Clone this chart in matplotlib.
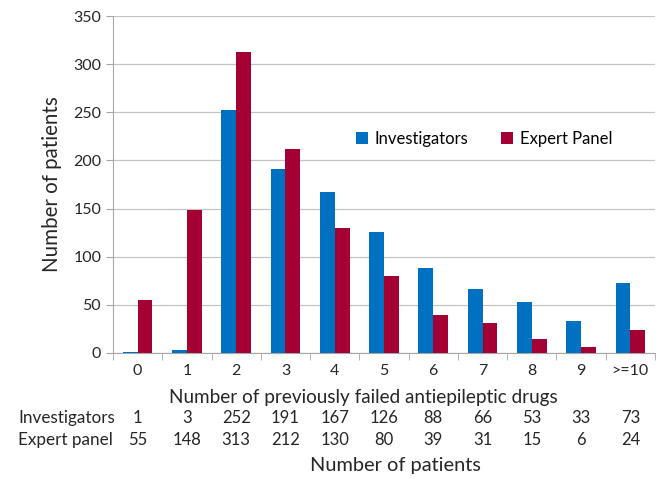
import matplotlib
matplotlib.use("Agg")
import matplotlib.pyplot as plt
import matplotlib.transforms as mtransforms
import numpy as np

categories = ["0", "1", "2", "3", "4", "5", "6", "7", "8", "9", ">=10"]
investigators = [1, 3, 252, 191, 167, 126, 88, 66, 53, 33, 73]
expert_panel = [55, 148, 313, 212, 130, 80, 39, 31, 15, 6, 24]
yticks = [0, 50, 100, 150, 200, 250, 300, 350]

plt.rcParams['font.family'] = ['Lato', 'DejaVu Sans']

W, H = 662, 479
fig = plt.figure(figsize=(W / 100, H / 100), dpi=100)
ax = fig.add_axes([113 / W, 1 - 353 / H, (655 - 113) / W, (353 - 16) / H])

blue = "#0070C0"
red = "#A50034"
x = np.arange(len(categories))
bw = 0.3
ax.bar(x - bw / 2, investigators, bw, color=blue, label="Investigators", zorder=3)
ax.bar(x + bw / 2, expert_panel, bw, color=red, label="Expert Panel", zorder=3)

ax.set_xlim(-0.5, len(categories) - 0.5)
ax.set_ylim(0, 350)
ax.set_yticks(yticks)
ax.tick_params(axis='y', labelsize=11.5, length=5, color="#a6a6a6", colors="#262626")
for lbl in ax.get_yticklabels():
    lbl.set_color("#262626")
ax.yaxis.grid(True, color="#c4c4c4", linewidth=0.9, zorder=0)
ax.set_axisbelow(True)

ax.set_xticks(x)
ax.set_xticklabels(categories)
ax.tick_params(axis='x', which='major', length=0, labelsize=11.5, pad=8, labelcolor="#262626")
ax.set_xticks(np.arange(-0.5, len(categories) - 0.4, 1.0), minor=True)
ax.tick_params(axis='x', which='minor', length=5, color="#a6a6a6")

for s in ["top", "right"]:
    ax.spines[s].set_visible(False)
for s in ["left", "bottom"]:
    ax.spines[s].set_color("#a6a6a6")

ax.set_ylabel("Number of patients", fontsize=14.8, color="#262626", labelpad=8)

trans = mtransforms.blended_transform_factory(ax.transData, fig.transFigure)
fig.text(363 / W, 1 - 397 / H, "Number of previously failed antiepileptic drugs",
         ha="center", va="center", fontsize=13.6, color="#262626")

rows = [("Investigators", investigators, 418), ("Expert panel", expert_panel, 440)]
for name, vals, ypx in rows:
    fig.text(18 / W, 1 - ypx / H, name, ha="left", va="center", fontsize=12.3, color="#262626")
    for xi, v in zip(x, vals):
        ax.text(xi, 1 - ypx / H, str(v), transform=trans, ha="center", va="center",
                fontsize=12, color="#262626")

fig.text(395 / W, 1 - 466 / H, "Number of patients", ha="center", va="center",
         fontsize=14.4, color="#262626")

ax.legend(loc="upper left", bbox_to_anchor=(341 / W, 1 - 116 / H),
          bbox_transform=fig.transFigure, ncol=2, frameon=False, fontsize=12,
          handlelength=0.7, handleheight=0.7, handletextpad=0.4, columnspacing=2.0)

fig.savefig("out.png", dpi=100)
